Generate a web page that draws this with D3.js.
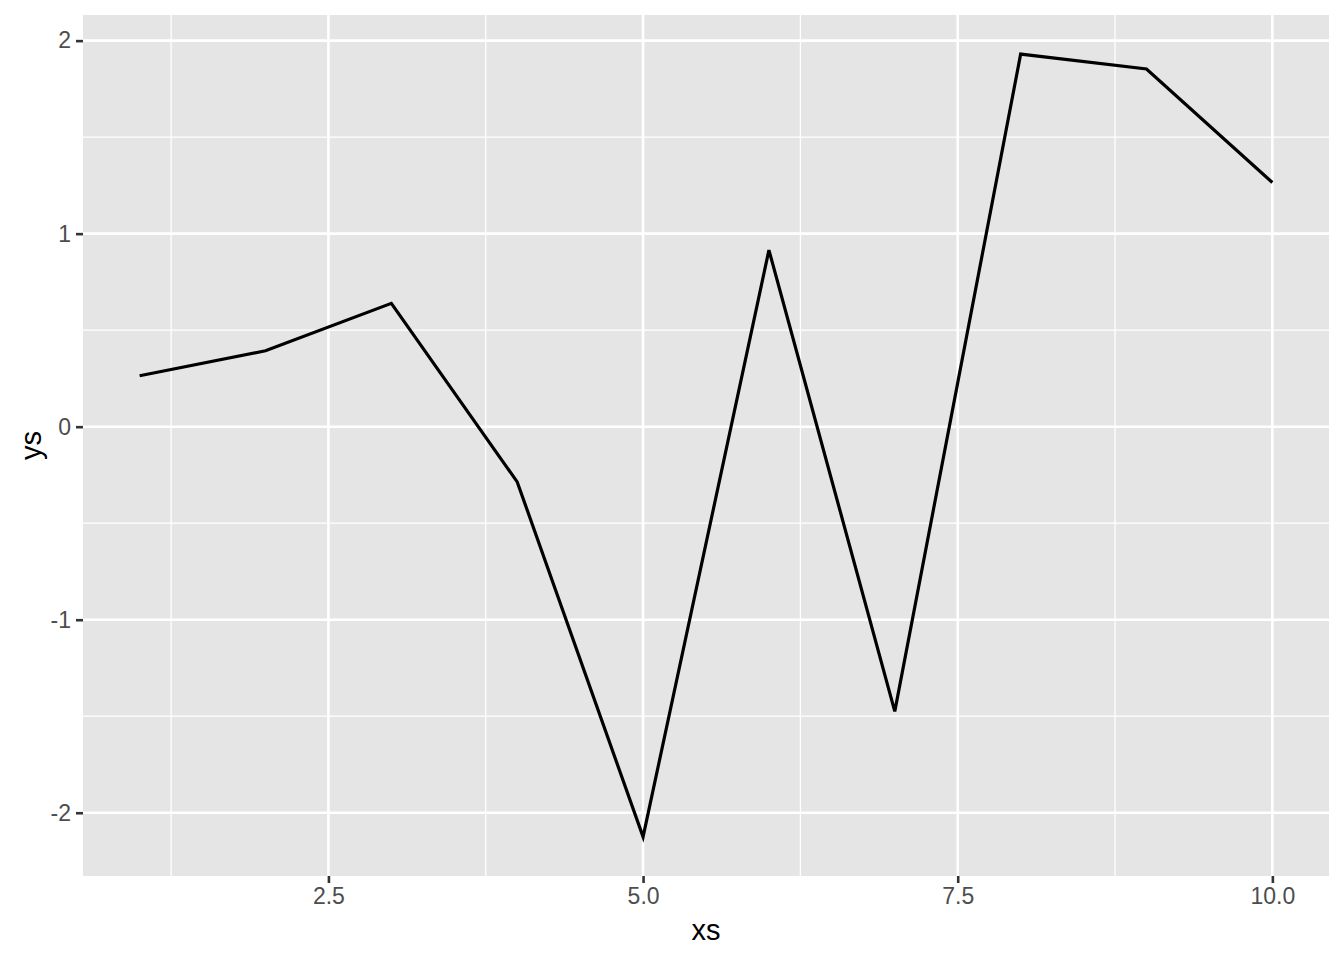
<!DOCTYPE html>
<html>
<head>
<meta charset="utf-8">
<script src="https://cdn.jsdelivr.net/npm/d3@7"></script>
<style>
  body { margin: 0; background: #fff; }
  text { font-family: "Liberation Sans", Arial, sans-serif; }
</style>
</head>
<body>
<div id="chart"></div>
<script>
// data
const xs = [1, 2, 3, 4, 5, 6, 7, 8, 9, 10];
const ys = [0.264, 0.393, 0.639, -0.286, -2.125, 0.915, -1.475, 1.93, 1.853, 1.265];
const xTicks = [2.5, 5.0, 7.5, 10.0];
const xMinor = [1.25, 3.75, 6.25, 8.75];
const yTicks = [-2, -1, 0, 1, 2];
const yMinor = [-1.5, -0.5, 0.5, 1.5];

const W = 1344, H = 960;
const margin = { top: 15, right: 15, bottom: 84, left: 83 };
const width = W - margin.left - margin.right;
const height = H - margin.top - margin.bottom;

const svg = d3.select("#chart").append("svg")
    .attr("width", W)
    .attr("height", H);

const g = svg.append("g")
    .attr("transform", `translate(${margin.left},${margin.top})`);

// ggplot style 5% expansion
function expand(ext) {
    const pad = (ext[1] - ext[0]) * 0.05;
    return [ext[0] - pad, ext[1] + pad];
}

const x = d3.scaleLinear().domain(expand(d3.extent(xs))).range([0, width]);
const y = d3.scaleLinear().domain(expand(d3.extent(ys))).range([height, 0]);

// panel background
g.append("rect")
    .attr("width", width)
    .attr("height", height)
    .attr("fill", "#E5E5E5");

// minor grid
g.selectAll(".xminor").data(xMinor).enter().append("line")
    .attr("x1", d => x(d)).attr("x2", d => x(d))
    .attr("y1", 0).attr("y2", height)
    .attr("stroke", "#fff").attr("stroke-width", 1.3);
g.selectAll(".yminor").data(yMinor).enter().append("line")
    .attr("y1", d => y(d)).attr("y2", d => y(d))
    .attr("x1", 0).attr("x2", width)
    .attr("stroke", "#fff").attr("stroke-width", 1.3);

// major grid
g.selectAll(".xmajor").data(xTicks).enter().append("line")
    .attr("x1", d => x(d)).attr("x2", d => x(d))
    .attr("y1", 0).attr("y2", height)
    .attr("stroke", "#fff").attr("stroke-width", 2.6);
g.selectAll(".ymajor").data(yTicks).enter().append("line")
    .attr("y1", d => y(d)).attr("y2", d => y(d))
    .attr("x1", 0).attr("x2", width)
    .attr("stroke", "#fff").attr("stroke-width", 2.6);

// axes
const xAxis = g.append("g")
    .attr("transform", `translate(0,${height})`)
    .call(d3.axisBottom(x).tickValues(xTicks).tickFormat(d3.format(".1f"))
        .tickSizeInner(7).tickSizeOuter(0).tickPadding(5));
const yAxis = g.append("g")
    .call(d3.axisLeft(y).tickValues(yTicks).tickFormat(d3.format("d"))
        .tickSizeInner(7).tickSizeOuter(0).tickPadding(5));

[xAxis, yAxis].forEach(a => {
    a.select(".domain").remove();
    a.selectAll("line").attr("stroke", "#333333").attr("stroke-width", 2.6);
    a.selectAll("text")
        .attr("fill", "#4D4D4D")
        .style("font-size", "23px");
});
yAxis.selectAll("text").text(d => d < 0 ? "-" + Math.abs(d) : d);

// line
const line = d3.line()
    .x((d, i) => x(xs[i]))
    .y(d => y(d));

g.append("path")
    .datum(ys)
    .attr("fill", "none")
    .attr("stroke", "#000")
    .attr("stroke-width", 3.2)
    .attr("stroke-linejoin", "miter")
    .attr("d", line);

// axis titles
svg.append("text")
    .attr("x", margin.left + width / 2)
    .attr("y", 940)
    .attr("text-anchor", "middle")
    .style("font-size", "29px")
    .attr("fill", "#000")
    .text("xs");

svg.append("text")
    .attr("transform", `translate(41,${margin.top + height / 2}) rotate(-90)`)
    .attr("text-anchor", "middle")
    .style("font-size", "29px")
    .attr("fill", "#000")
    .text("ys");
</script>
</body>
</html>
